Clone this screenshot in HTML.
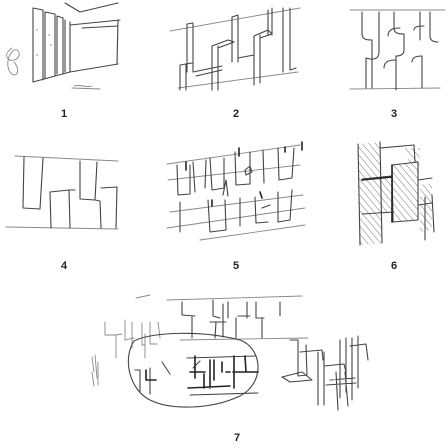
<!DOCTYPE html>
<html><head><meta charset="utf-8"><style>
html,body{margin:0;padding:0;background:#fff;width:448px;height:448px;overflow:hidden}
svg{display:block}
.s{fill:none;stroke:#444;stroke-width:1.1;stroke-linecap:round;stroke-linejoin:round}
.l{fill:none;stroke:#888;stroke-width:0.9;stroke-linecap:round}
.d{fill:none;stroke:#222;stroke-width:1.6;stroke-linecap:round}
.lab{font-family:"Liberation Sans",sans-serif;font-weight:bold;font-size:11px;fill:#222}
</style></head><body>
<svg width="448" height="448" viewBox="0 0 448 448">
<defs>
<pattern id="hatch" width="5" height="5" patternUnits="userSpaceOnUse" patternTransform="rotate(-40)">
<line x1="0" y1="0" x2="0" y2="5" stroke="#777" stroke-width="1"/></pattern>
</defs>

<!-- Sketch 1 -->
<g>
<path class="s" d="M33 8 L33 82 M43 10 L43 80 M45 12 L45 78 M55 14 L55 76 M57 16 L57 74 M63 18 L63 73 M65 20 L65 72 M70 22 L70 72 M33 8 L43 10 M45 12 L55 14 M57 16 L63 18 M33 82 L70 72"/>
<path class="s" d="M70 25 L120 20 M70 72 L118 64 M118 20 L117 64 M65 3 L80 12 L118 3 M82 28 L118 26"/>
<path class="l" d="M12 48 C2 55 8 62 14 60 C22 58 20 48 14 50 C6 56 6 70 12 74 C18 78 20 68 14 62"/>
<path class="l" d="M72 88 L100 89 M74 86 C80 84 86 88 92 86"/>
<g fill="#777"><circle cx="37" cy="30" r="0.7"/><circle cx="49" cy="35" r="0.7"/><circle cx="51" cy="45" r="0.7"/><circle cx="37" cy="55" r="0.7"/></g>
</g>
<text class="lab" x="64" y="117" text-anchor="middle">1</text>

<!-- Sketch 2 -->
<g>
<path class="l" d="M170 31 L300 8 M178 88 L298 72"/>
<path class="s" d="M187 24 L187 72 M193 23 L193 72 M187 24 L193 23 M180 65 L180 90 M186 64 L186 90 M180 65 L192 63 M193 72 L222 66 M196 76 L222 70 M212 46 L212 90 M218 46 L218 90 M212 46 L228 40 L234 42 L218 48 M232 17 L232 62 M238 16 L238 62 M232 17 L238 15 M238 58 L254 55 M254 36 L254 85 M260 35 L260 83 M254 36 L268 30 L272 34 L260 38 M268 10 L268 35 M272 8 L272 35 M283 8 L283 72 M290 8 L290 70 L296 68"/>
</g>
<text class="lab" x="236" y="117" text-anchor="middle">2</text>

<!-- Sketch 3 -->
<g>
<path class="l" d="M350 10 L445 10 M350 89 L440 88"/>
<path class="s" d="M362 12 L362 34 C362 40 368 40 372 40 M372 40 L372 88 M379 12 L379 52 C379 60 372 60 366 58 M366 58 L366 88 M394 12 L394 28 C394 34 400 34 404 34 M404 34 L404 50 C404 56 398 56 396 56 M396 56 L396 90 M412 62 C412 56 420 56 422 56 L422 88 M420 12 L420 40 M430 12 L430 36 C430 42 436 42 438 42 M384 68 C384 60 392 60 396 60 M414 30 C414 26 420 26 424 26 M388 36 C388 28 396 28 400 28"/>
</g>
<text class="lab" x="394" y="117" text-anchor="middle">3</text>

<!-- Sketch 4 -->
<g>
<path class="l" d="M15 156 L118 161 M6 227 L118 229"/>
<path class="s" d="M24 157 L23 208 L40 209 L43 158 M50 192 L51 228 M50 192 L69 190 L70 228 M80 161 L80 199 L95 200 L97 162 M95 200 L100 201 L101 228 M101 188 L117 187 L116 228 M68 190 L75 190"/>
</g>
<text class="lab" x="64" y="269" text-anchor="middle">4</text>

<!-- Sketch 5 -->
<g>
<path class="l" d="M167 164 L300 145 M170 212 L303 195 M167 228 L305 208 M200 240 L305 225 M168 180 L300 165"/>
<path class="s" d="M177 165 L178 195 L190 194 L190 165 M193 162 L195 192 M206 160 L205 188 M210 158 L212 190 L224 188 L224 158 M235 152 L236 185 L250 184 L250 152 M263 150 L264 183 M278 148 L279 180 L292 178 L294 148 M180 202 L180 232 M208 200 L210 232 L226 230 L225 200 M240 198 L240 226 M255 197 L256 223 L268 222 M278 192 L278 222 L290 220 L292 190 M223 195 L226 180 L228 196 M245 170 L250 166 L252 172 L246 175 Z M262 208 L270 205"/>
<path class="d" d="M186 162 L186 170 M239 148 L239 156 M285 147 L285 152 M302 142 L302 150 M212 200 L212 206 M260 192 L262 198"/>
</g>
<text class="lab" x="236" y="269" text-anchor="middle">5</text>

<!-- Sketch 6 -->
<g>
<path d="M358 144 L380 142 L382 243 L360 245 Z M362 180 L393 176 L395 212 L364 216 Z M392 165 L418 163 L418 220 L395 222 Z M405 148 L420 148 L418 200 Z M420 185 L432 183 L432 230 L420 232 Z" fill="url(#hatch)" stroke="none"/>
<path class="s" d="M358 144 L360 245 M380 142 L382 243 M362 179 L392 176 M362 214 L394 212 M392 165 L393 222 M392 165 L418 162 L418 220 L393 222 M380 148 L414 145 L415 162 M418 180 L432 178 M418 205 L432 203 M425 197 L425 240 M432 195 L434 232"/>
<path class="d" d="M392 165 L392 222 M362 180 L392 177"/>
</g>
<text class="lab" x="394" y="269" text-anchor="middle">6</text>

<!-- Sketch 7 -->
<g>
<path class="l" d="M136 298 L150 295 M167 300 L302 296 M180 340 L308 338"/>
<path class="s" d="M182 302 L182 315 L195 316 M192 316 L192 338 M213 300 L213 316 L220 318 M223 304 L223 337 M228 302 L228 318 M236 318 L236 338 M238 316 L250 316 M247 302 L247 318 M256 302 L256 318 L264 318 M262 318 L262 338 M216 322 L215 338 M210 322 L226 322 M280 302 L280 316"/>
<path class="l" d="M105 322 L105 335 L116 335 L116 358 M116 335 L122 334 M125 320 L125 340 M132 322 L132 348 M125 340 L134 338 M142 323 L142 345 L145 345 M145 334 L145 358 M150 322 L150 344 L157 344 M158 322 L160 338"/>
<path class="l" d="M92 357 L94 372 M95 355 L97 378 M98 362 L98 385 M92 372 L94 386"/>
<path class="s" d="M134 341 C152 332 200 330 240 340 C262 348 266 382 240 396 C210 410 170 410 150 400 C130 390 122 360 134 341"/>
<path class="s" d="M193 368 L200 361 M187 358 L255 356 M190 395 L258 393 M135 370 L140 370 L140 392 M150 368 L150 394 M162 362 L170 374"/>
<path class="d" d="M195 356 L195 378 M190 372 L205 372 M204 374 L204 388 M210 360 L210 388 M214 360 L214 380 M222 362 L222 372 M226 372 L230 372 M234 356 L234 388 M233 372 L258 372 M188 388 L230 386 M245 356 L246 372 M146 370 L146 380 L156 380"/>
<path class="s" d="M290 340 L298 340 L298 376 L307 375 L306 345 M300 352 L322 350 L323 360 M282 377 L302 372 L312 380 L290 382 Z M318 352 L318 405 M324 352 L324 405 M324 366 L344 364 L346 372 M340 340 L340 398 M346 338 L346 392 M330 380 L355 378 M352 338 L352 400 M358 336 L358 388 M326 385 L356 383 M350 346 L366 344 L368 360 M336 372 L338 410 M345 372 L348 406"/>
</g>
<text class="lab" x="237" y="441" text-anchor="middle">7</text>
</svg>
</body></html>
